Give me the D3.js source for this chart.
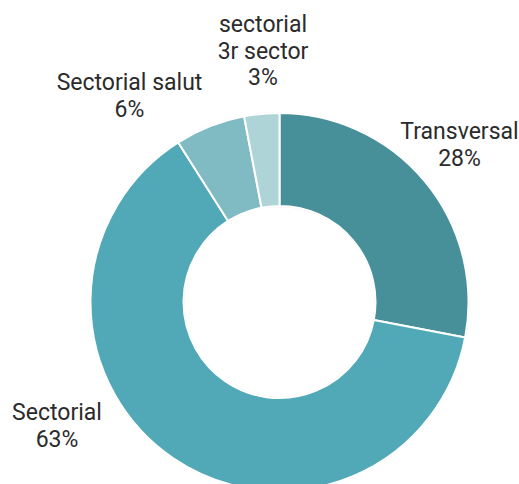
<!DOCTYPE html>
<html>
<head>
<meta charset="utf-8">
<script src="https://cdn.jsdelivr.net/npm/d3@7"></script>
<style>
  html, body { margin: 0; padding: 0; background: #fff; }
  svg { display: block; }
  text { font-family: Roboto, "Noto Sans", sans-serif; fill: #2b2b2b; font-weight: 400; }
</style>
</head>
<body>
<svg id="chart" width="519" height="484"></svg>
<script>
// Data
const categories = ["Transversal", "Sectorial", "Sectorial salut", "sectorial 3r sector"];
const values = [28, 63, 6, 3];
const labelLines = [["Transversal"], ["Sectorial"], ["Sectorial salut"], ["sectorial", "3r sector"]];
const colors = ["#478f99", "#51a9b8", "#80bbc4", "#afd4d8"];

// Layout
const W = 519, H = 484;
const cx = 279.5, cy = 302;
const outerR = 189, innerR = 96;
// label anchor points (center x, first baseline y)
const labelAnchors = [[459.5, 139], [57, 420], [129.5, 90], [263, 32]];
const lineH = 26.5;

const svg = d3.select("#chart");
const g = svg.append("g").attr("transform", `translate(${cx},${cy})`);

const data = categories.map((c, i) => ({ name: c, value: values[i], i }));
const pie = d3.pie().value(d => d.value).sort(null);
const arc = d3.arc().innerRadius(innerR).outerRadius(outerR);

// faint outline
g.append("circle").attr("r", outerR + 0.5).attr("fill", "none").attr("stroke", "#e6e6e6").attr("stroke-width", 1);
g.append("circle").attr("r", innerR - 0.5).attr("fill", "none").attr("stroke", "#e6e6e6").attr("stroke-width", 1);

g.selectAll("path.slice")
  .data(pie(data))
  .join("path")
  .attr("class", "slice")
  .attr("d", arc)
  .attr("fill", d => colors[d.data.i])
  .attr("stroke", "#fff")
  .attr("stroke-width", 2)
  .attr("stroke-linejoin", "round");

const fmt = v => d3.format("d")(v) + "%";
const labels = svg.selectAll("text.lbl")
  .data(data)
  .join("text")
  .attr("class", "lbl")
  .attr("text-anchor", "middle")
  .attr("font-size", 23);

labels.each(function(d) {
  const t = d3.select(this);
  const [x, y] = labelAnchors[d.i];
  const lines = labelLines[d.i].concat([fmt(d.value)]);
  lines.forEach((ln, k) => {
    t.append("tspan").attr("x", x).attr("y", y + k * lineH).text(ln);
  });
});
</script>
</body>
</html>
